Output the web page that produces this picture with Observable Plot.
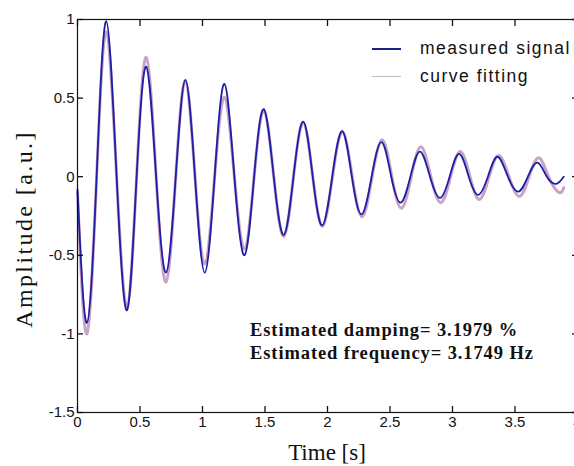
<!DOCTYPE html>
<html><head><meta charset="utf-8">
<script src="https://cdn.jsdelivr.net/npm/d3@7"></script>
<script src="https://cdn.jsdelivr.net/npm/@observablehq/plot@0.6"></script>
<style>
body{margin:0;background:#fff;overflow:hidden}
#wrap{position:relative;width:574px;height:466px;overflow:hidden}
.abs{position:absolute;white-space:nowrap;line-height:1}
.serif{font-family:"Liberation Serif","Times New Roman",serif;color:#111}
.sans{font-family:"Liberation Sans",Arial,sans-serif;color:#111}
</style></head><body><div id="wrap"></div>
<script>
// measured signal: peaks, troughs and zero crossings
const measuredTime = [0, 0.075, 0.153, 0.23, 0.313, 0.396, 0.473, 0.55, 0.629, 0.708, 0.786, 0.863, 0.94, 1.018, 1.097, 1.175, 1.255, 1.336, 1.413, 1.49, 1.57, 1.65, 1.728, 1.806, 1.882, 1.958, 2.038, 2.118, 2.195, 2.273, 2.353, 2.433, 2.51, 2.586, 2.663, 2.74, 2.82, 2.9, 2.977, 3.053, 3.13, 3.205, 3.283, 3.36, 3.443, 3.526, 3.603, 3.68, 3.755, 3.83, 3.89];
const measuredAmp  = [-0.08, -0.93, 0, 0.99, 0, -0.85, 0, 0.70, 0, -0.61, 0, 0.615, 0, -0.61, 0, 0.59, 0, -0.50, 0, 0.43, 0, -0.37, 0, 0.35, 0, -0.31, 0, 0.29, 0, -0.24, 0, 0.22, 0, -0.165, 0, 0.16, 0, -0.135, 0, 0.145, 0, -0.115, 0, 0.127, 0, -0.095, 0, 0.09, 0, -0.045, 0];
// curve fitting
const fitTime = [0, 0.075, 0.153, 0.23, 0.313, 0.396, 0.473, 0.55, 0.629, 0.708, 0.786, 0.863, 0.94, 1.018, 1.097, 1.175, 1.255, 1.336, 1.413, 1.49, 1.57, 1.65, 1.728, 1.806, 1.882, 1.96, 2.04, 2.12, 2.198, 2.277, 2.357, 2.438, 2.515, 2.592, 2.67, 2.748, 2.827, 2.907, 2.985, 3.062, 3.14, 3.215, 3.293, 3.37, 3.452, 3.535, 3.613, 3.69, 3.768, 3.85, 3.89];
const fitAmp  = [-0.1, -1.0, 0, 0.92, 0, -0.83, 0, 0.76, 0, -0.67, 0, 0.61, 0, -0.555, 0, 0.505, 0, -0.46, 0, 0.42, 0, -0.38, 0, 0.345, 0, -0.315, 0, 0.285, 0, -0.255, 0, 0.235, 0, -0.2, 0, 0.19, 0, -0.165, 0, 0.16, 0, -0.145, 0, 0.135, 0, -0.125, 0, 0.12, 0, -0.1, -0.07];
const xTicks = [0, 0.5, 1, 1.5, 2, 2.5, 3, 3.5, 4];
const yTicks = [-1.5, -1, -0.5, 0, 0.5, 1];
const seriesNames = ["measured signal", "curve fitting"];
const seriesColors = ["#1e1ea6", "#c9a3c6"];
const legendColors = ["#1e1e8c", "#bdbdbd"];
const annotations = ["Estimated damping= 3.1979 %", "Estimated frequency= 3.1749 Hz"];
const xTitle = "Time [s]";
const yTitle = "Amplitude [a.u.]";

const measured = measuredTime.map((t, i) => ({t, v: measuredAmp[i]}));
const fit = fitTime.map((t, i) => ({t, v: fitAmp[i]}));
const fmt = d => String(d);

const chart = Plot.plot({
  width: 574, height: 466,
  marginTop: 19, marginBottom: 54, marginLeft: 77, marginRight: -3,
  style: {fontFamily: "'Liberation Sans', Arial, sans-serif", fontSize: "15px", color: "#111", background: "#fff"},
  x: {domain: [0, 4], label: null},
  y: {domain: [-1.5, 1], label: null},
  marks: [
    Plot.line(fit, {x: "t", y: "v", stroke: seriesColors[1], strokeWidth: 3, curve: "natural"}),
    Plot.line(measured, {x: "t", y: "v", stroke: seriesColors[0], strokeWidth: 1.8, curve: "natural"}),
    Plot.frame({stroke: "#111", strokeWidth: 1.2}),
    Plot.axisX(xTicks, {anchor: "bottom", tickSize: 0, tickPadding: 4, tickFormat: fmt, label: null}),
    Plot.axisX(xTicks, {anchor: "bottom", tickSize: 6, dy: -6, strokeWidth: 1.3, stroke: "#111", fill: "none", label: null}),
    Plot.axisX(xTicks, {anchor: "top", tickSize: 6, dy: 6, strokeWidth: 1.3, stroke: "#111", fill: "none", label: null}),
    Plot.axisY(yTicks, {anchor: "left", tickSize: 0, tickPadding: 3, tickFormat: fmt, label: null}),
    Plot.axisY(yTicks, {anchor: "left", tickSize: 6, dx: 6, strokeWidth: 1.3, stroke: "#111", fill: "none", label: null}),
    Plot.axisY(yTicks, {anchor: "right", tickSize: 6, dx: -6, strokeWidth: 1.3, stroke: "#111", fill: "none", label: null})
  ]
});
const wrap = document.getElementById("wrap");
wrap.appendChild(chart);

function addDiv(cls, text, css) {
  const d = document.createElement("div");
  d.className = "abs " + cls;
  d.textContent = text;
  Object.assign(d.style, css);
  wrap.appendChild(d);
  return d;
}
// axis titles
addDiv("serif", xTitle, {left: "327px", top: "452px", fontSize: "23px", transform: "translate(-50%,-50%)"});
addDiv("serif", yTitle, {left: "24px", top: "229px", fontSize: "24px", letterSpacing: "2.4px", transform: "translate(-50%,-50%) rotate(-90deg)"});
// legend
const legendY = [49, 77];
seriesNames.forEach((name, i) => {
  const ln = document.createElement("div");
  Object.assign(ln.style, {position: "absolute", left: "372px", top: (legendY[i] - 1) + "px", width: "29px", height: "0", borderTop: (i === 0 ? "2px solid " : "1.5px solid ") + legendColors[i]});
  wrap.appendChild(ln);
  addDiv("sans", name, {left: "420px", top: legendY[i] + "px", fontSize: "17.5px", letterSpacing: "1.5px", transform: "translateY(-50%)"});
});
// annotations
const annY = [330, 353];
annotations.forEach((a, i) => {
  addDiv("serif", a, {left: "250px", top: annY[i] + "px", fontSize: "18.5px", fontWeight: "bold", letterSpacing: "0.9px", transform: "translateY(-50%)"});
});
</script>
</body></html>
